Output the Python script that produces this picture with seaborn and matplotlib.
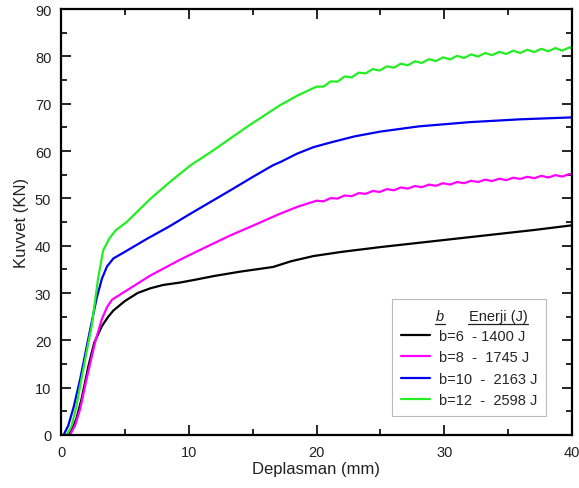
import matplotlib
matplotlib.use("Agg")
import matplotlib.pyplot as plt
from matplotlib.lines import Line2D
import pandas as pd
import seaborn as sns

# Data (Deplasman mm, Kuvvet kN)
b6_x = [0, 0.5, 0.8, 1.2, 1.6, 2.15, 2.6, 3.2, 3.7, 4.1, 5, 6, 7, 8, 9.3, 10.5, 12, 14,
        16.6, 18, 19.75, 22, 25, 28, 31, 34, 37, 40]
b6_y = [0, 0, 0.8, 3.4, 7.5, 14.6, 19.5, 23.0, 25.0, 26.3, 28.3, 30.0, 31.0, 31.7, 32.2, 32.8,
        33.6, 34.5, 35.5, 36.7, 37.8, 38.7, 39.7, 40.6, 41.5, 42.4, 43.3, 44.3]

b8_x = [0, 0.7, 1.1, 1.5, 2.0, 2.67, 3.2, 3.6, 4.0, 5, 7, 9.3, 10.5, 13.2, 15, 17.1, 18.5,
        20.0, 20.55, 21.1, 21.65, 22.2, 22.75, 23.3, 23.85, 24.4, 24.95, 25.5, 26.05, 26.6,
        27.15, 27.7, 28.25, 28.8, 29.35, 29.9, 30.45, 31.0, 31.55, 32.1, 32.65, 33.2, 33.75,
        34.3, 34.85, 35.4, 35.95, 36.5, 37.05, 37.6, 38.15, 38.7, 39.25, 39.8, 40]
b8_y = [0, 0, 2.0, 5.5, 11.8, 19.6, 24.5, 27.0, 28.6, 30.3, 33.7, 37.0, 38.6, 42.1, 44.2,
        46.7, 48.2,
        49.5, 49.35, 50.05, 49.95, 50.6, 50.45, 51.1, 50.95, 51.55, 51.35, 51.95, 51.7, 52.3,
        52.05, 52.6, 52.35, 52.9, 52.65, 53.2, 52.9, 53.45, 53.2, 53.7, 53.45, 53.95, 53.65,
        54.15, 53.85, 54.35, 54.1, 54.55, 54.25, 54.75, 54.4, 54.9, 54.6, 55.15, 55.0]

b10_x = [0, 0.2, 0.57, 1.0, 1.5, 2.0, 2.4, 2.8, 3.2, 3.6, 4.1, 5, 6.7, 8.5, 10.1, 13.2, 15,
         16.6, 17.2, 18.45, 19.75, 21.1, 23, 25, 28, 32, 36, 40]
b10_y = [0, 0, 2.0, 6.0, 11.8, 18.5, 23.8, 29.0, 33.0, 35.6, 37.3, 38.7, 41.4, 44.1, 46.7,
         51.6, 54.5, 57.0, 57.7, 59.4, 60.8, 61.8, 63.1, 64.1, 65.2, 66.1, 66.7, 67.1]

b12_x = [0, 0.45, 0.84, 1.2, 1.6, 2.0, 2.4, 2.9, 3.3, 3.8, 4.3, 5.1, 7.0, 8.5, 10.1, 11.9,
         14.5, 17.1, 18.5,
         20.0, 20.55, 21.1, 21.65, 22.2, 22.75, 23.3, 23.85, 24.4, 24.95, 25.5, 26.05, 26.6,
         27.15, 27.7, 28.25, 28.8, 29.35, 29.9, 30.45, 31.0, 31.55, 32.1, 32.65, 33.2, 33.75,
         34.3, 34.85, 35.4, 35.95, 36.5, 37.05, 37.6, 38.15, 38.7, 39.25, 39.8, 40]
b12_y = [0, 0, 2.0, 6.0, 11.8, 17.5, 23.0, 33.0, 39.0, 41.6, 43.3, 44.9, 49.9, 53.4, 56.9,
         60.1, 65.0, 69.6, 71.7,
         73.6, 73.6, 74.7, 74.65, 75.75, 75.55, 76.55, 76.4, 77.3, 77.0, 77.9, 77.6, 78.45,
         78.1, 78.95, 78.6, 79.4, 79.0, 79.8, 79.35, 80.1, 79.65, 80.4, 79.95, 80.7, 80.25,
         80.95, 80.5, 81.2, 80.7, 81.4, 80.9, 81.6, 81.05, 81.75, 81.2, 81.9, 81.7]

labels = ["b=6  - 1400 J", "b=8  -  1745 J", "b=10  -  2163 J", "b=12  -  2598 J"]
colors = ["#000000", "#ff00ff", "#0000ee", "#22ee22"]

sns.set_style("ticks")
plt.rcParams["font.family"] = ["Liberation Sans", "DejaVu Sans"]

fig = plt.figure(figsize=(5.79, 4.89), dpi=100)
ax = fig.add_axes([61 / 579, 53 / 489, 511 / 579, 426 / 489])

series = [(b6_x, b6_y), (b8_x, b8_y), (b10_x, b10_y), (b12_x, b12_y)]
handles = []
for (xs, ys), lab, col in zip(series, labels, colors):
    df = pd.DataFrame({"x": xs, "y": ys})
    sns.lineplot(data=df, x="x", y="y", color=col, linewidth=1.6, sort=False,
                 estimator=None, ax=ax)
    line = ax.get_lines()[-1]
    line.set_solid_joinstyle("round")
    handles.append(line)

ax.set_xlim(0, 40)
ax.set_ylim(0, 90)
ax.set_xticks([0, 10, 20, 30, 40])
ax.set_xticks([5, 15, 25, 35], minor=True)
ax.set_yticks(range(0, 91, 10))
ax.set_yticks(range(5, 90, 10), minor=True)
ax.tick_params(which="both", direction="in", top=True, right=True, width=1.2,
               colors="black", labelcolor="#222222", labelsize=10.5)
ax.tick_params(which="major", length=7, pad=7)
ax.tick_params(which="minor", length=4.5)
for sp in ax.spines.values():
    sp.set_linewidth(1.6)
    sp.set_color("black")

ax.set_xlabel("Deplasman (mm)", fontsize=12, color="#222222", labelpad=2)
ax.set_ylabel("Kuvvet (KN)", fontsize=12, color="#222222", labelpad=4)

leg = ax.legend(handles, labels, title=" ", loc="lower right",
                bbox_to_anchor=(0.949, 0.045), borderaxespad=0, fontsize=10.5,
                fancybox=False, framealpha=1, edgecolor="#bbbbbb",
                handlelength=2.0, handletextpad=0.6, labelspacing=0.5,
                borderpad=0.6)
leg.get_frame().set_linewidth(0.8)
leg.get_title().set_fontsize(10.5)

# header row of the legend (underlined)
hy = (436 - 317) / 426
t1 = ax.text((440 - 61) / 511, hy, "b", transform=ax.transAxes, ha="center",
             va="center", fontsize=10.5, style="italic", color="#222222", zorder=10)
t2 = ax.text((498 - 61) / 511, hy, "Enerji (J)", transform=ax.transAxes, ha="center",
             va="center", fontsize=10.5, color="#222222", zorder=10)
fig.canvas.draw()
for t in (t1, t2):
    bb = t.get_window_extent()
    y0 = bb.y0 - 1
    fig.add_artist(Line2D([bb.x0 - 1, bb.x1 + 1], [y0, y0], transform=None,
                          color="#222222", linewidth=0.9, zorder=10))

fig.savefig("out.png", dpi=100)
